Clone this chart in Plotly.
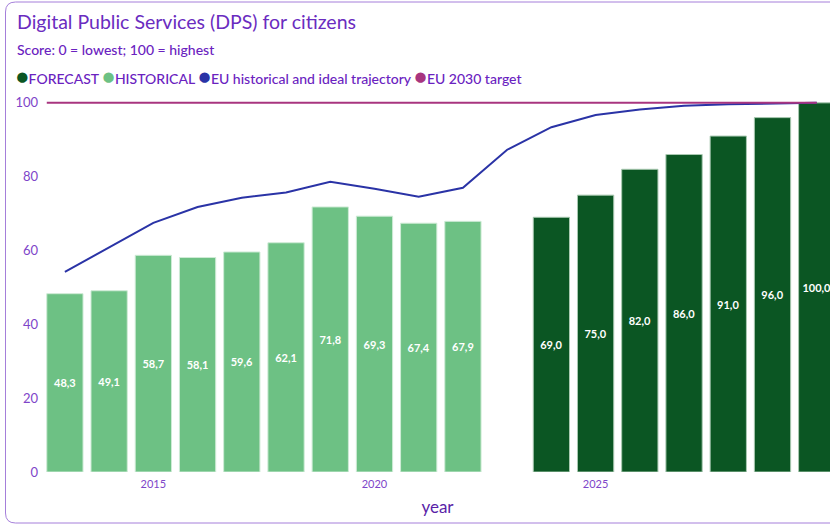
import plotly.graph_objects as go

# ---------------- data ----------------
hist_years = [2013, 2014, 2015, 2016, 2017, 2018, 2019, 2020, 2021, 2022]
hist_values = [48.3, 49.1, 58.7, 58.1, 59.6, 62.1, 71.8, 69.3, 67.4, 67.9]

fc_years = [2024, 2025, 2026, 2027, 2028, 2029, 2030]
fc_values = [69.0, 75.0, 82.0, 86.0, 91.0, 96.0, 100.0]

eu_years = list(range(2013, 2031))
eu_values = [54.2, 60.8, 67.5, 71.8, 74.3, 75.7, 78.6, 76.7, 74.6, 77.0,
             87.3, 93.4, 96.7, 98.2, 99.2, 99.6, 99.9, 100.0]

target_value = 100
target_year = 2030

x_ticks = [2015, 2020, 2025, 2030]
y_ticks = [0, 20, 40, 60, 80, 100]

legend_names = ["FORECAST", "HISTORICAL", "EU historical and ideal trajectory",
                "EU 2030 target"]

# ---------------- style ----------------
FONT = "Segoe UI, Lato, 'Open Sans', sans-serif"
C_FC = "#0B5623"
C_HIST = "#6DC184"
C_EU = "#2A33A6"
C_TGT = "#A8357F"
C_TITLE = "#6A2CC0"
C_TEXT = "#6A22C0"
C_TICK = "#7E45C9"
BAR_W = 0.82

W, H = 830, 525
ML, MR, MT, MB = 45, 0, 101, 53
PW, PH = W - ML - MR, H - MT - MB


def fmt(v):
    return f"{v:.1f}".replace(".", ",")


fig = go.Figure()

fig.add_trace(go.Bar(
    x=hist_years, y=hist_values, width=BAR_W,
    marker=dict(color=C_HIST, line=dict(color="#CFEBD6", width=1)),
    text=[fmt(v) for v in hist_values],
    textposition="inside", insidetextanchor="middle", textangle=0,
    textfont=dict(color="white", size=11, family=FONT, weight="bold"),
    showlegend=False, name=legend_names[1],
))
fig.add_trace(go.Bar(
    x=fc_years, y=fc_values, width=BAR_W,
    marker=dict(color=C_FC, line=dict(color="#A9C9B1", width=1)),
    text=[fmt(v) for v in fc_values],
    textposition="inside", insidetextanchor="middle", textangle=0,
    textfont=dict(color="white", size=11, family=FONT, weight="bold"),
    showlegend=False, name=legend_names[0],
))
fig.add_trace(go.Scatter(
    x=eu_years, y=eu_values, mode="lines",
    line=dict(color=C_EU, width=2), showlegend=False,
    name=legend_names[2],
))
fig.add_trace(go.Scatter(
    x=[hist_years[0] - BAR_W / 2, target_year], y=[target_value, target_value],
    mode="lines", line=dict(color=C_TGT, width=2), showlegend=False,
    name=legend_names[3],
))


def px(x):
    return (x - ML) / PW


def py(y):
    return (H - MB - y) / PH


r = 10
L, T, B, R = 5.5, 2, 523, 845
path = (f"M {px(R)},{py(T)} L {px(L + r)},{py(T)} "
        f"Q {px(L)},{py(T)} {px(L)},{py(T + r)} "
        f"L {px(L)},{py(B - r)} Q {px(L)},{py(B)} {px(L + r)},{py(B)} "
        f"L {px(R)},{py(B)}")

legend_cols = [C_FC, C_HIST, C_EU, C_TGT]
legend_text = " ".join(
    f"<span style='color:{c};font-size:21px'>●</span>{n}"
    for n, c in zip(legend_names, legend_cols)
)

fig.update_layout(
    width=W, height=H,
    margin=dict(l=ML, r=MR, t=MT, b=MB),
    paper_bgcolor="white", plot_bgcolor="white",
    font=dict(family=FONT, color=C_TEXT),
    showlegend=False,
    title=dict(text="Digital Public Services (DPS) for citizens",
               x=17 / W, xref="container", xanchor="left",
               y=1 - 22 / H, yref="container", yanchor="middle",
               font=dict(size=19.5, color=C_TITLE, family=FONT)),
    annotations=[
        dict(text="Score: 0 = lowest; 100 = highest",
             xref="paper", yref="paper", x=px(15), y=py(50),
             xanchor="left", yanchor="middle", showarrow=False,
             font=dict(size=14, color=C_TEXT, family=FONT, weight=500)),
        dict(text=legend_text,
             xref="paper", yref="paper", x=px(14), y=py(75),
             xanchor="left", yanchor="middle", showarrow=False,
             font=dict(size=14, color=C_TEXT, family=FONT, weight=500)),
    ],
    shapes=[dict(type="path", path=path, xref="paper", yref="paper",
                 line=dict(color="#A57FDA", width=1))],
    xaxis=dict(range=[2012.55, 2030.3], tickvals=x_ticks,
               ticktext=[str(t) for t in x_ticks], showgrid=False,
               zeroline=False, showline=False, ticks="", ticklabelstandoff=4,
               tickfont=dict(size=11, color=C_TICK, family=FONT),
               title=dict(text="year", font=dict(size=17, color="#5A1FA8", family=FONT),
                          standoff=12)),
    yaxis=dict(range=[0, 100.5], tickvals=y_ticks, showgrid=False,
               zeroline=False, showline=False, ticks="", ticklabelstandoff=6,
               tickfont=dict(size=13, color=C_TICK, family=FONT)),
    bargap=0.18,
)

fig.write_html("out.html")
